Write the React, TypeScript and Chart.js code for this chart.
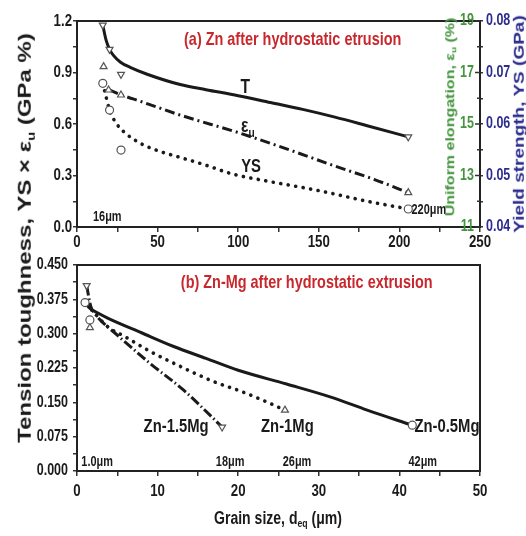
import React, { useEffect, useRef } from 'react';
import { Chart, registerables } from 'chart.js';

Chart.register(...registerables);

// ---------- Panel (a): Zn after hydrostatic extrusion (fitted curves) ----------
const aToughX = [16, 18, 20.2, 22.6, 27, 33, 43.5, 64, 80, 100, 120, 140, 160, 180, 205.5];
const aToughY = [1.176, 1.09, 1.035, 1.0, 0.96, 0.93, 0.89, 0.83, 0.8, 0.765, 0.725, 0.685, 0.64, 0.59, 0.525];
const aElongX = [19.6, 27.3, 40, 64, 100, 130, 160, 185, 205.5];
const aElongY = [0.8, 0.77, 0.73, 0.652, 0.55, 0.455, 0.355, 0.275, 0.2];
const aYieldX = [16, 18, 20.2, 23.7, 29, 39.4, 51.9, 62.3, 80, 96, 120, 140, 156, 180, 205.5];
const aYieldY = [0.837, 0.76, 0.681, 0.613, 0.555, 0.487, 0.439, 0.41, 0.36, 0.31, 0.264, 0.23, 0.2, 0.15, 0.105];
// measured points
const aToughPtX = [16, 20.2, 27.3, 205.5];
const aToughPtY = [1.176, 1.035, 0.889, 0.525];
const aElongPtX = [16.5, 19.6, 27.3, 205.5];
const aElongPtY = [0.934, 0.798, 0.769, 0.2];
const aYieldPtX = [16, 20.2, 27.3, 205.5];
const aYieldPtY = [0.837, 0.681, 0.448, 0.105];

// ---------- Panel (b): Zn-Mg after hydrostatic extrusion ----------
const b05X = [1.0, 1.5, 2.6, 3.8, 8, 12, 16, 20, 26, 31.4, 36, 41.6];
const b05Y = [0.368, 0.357, 0.345, 0.334, 0.302, 0.272, 0.246, 0.22, 0.19, 0.162, 0.133, 0.1];
const b1X = [1.8, 3.9, 6, 9, 13, 17, 20.2, 23, 25.8];
const b1Y = [0.352, 0.314, 0.293, 0.262, 0.227, 0.195, 0.175, 0.155, 0.133];
const b15X = [1.2, 1.7, 2.3, 5, 9, 13.2, 16.5, 18];
const b15Y = [0.405, 0.36, 0.342, 0.297, 0.236, 0.177, 0.122, 0.096];
const b05PtX = [1.0, 1.6, 41.6];
const b05PtY = [0.368, 0.33, 0.1];
const b1PtX = [1.6, 25.8];
const b1PtY = [0.313, 0.133];
const b15PtX = [1.2, 18];
const b15PtY = [0.405, 0.096];

// axis ranges
const aXRange = [0, 250];
const aYRange = [0, 1.2];
const aElongAxis = [11, 19];
const aYSAxis = [0.04, 0.08];
const bXRange = [0, 50];
const bYRange = [0, 0.45];

const WIDE = "'Liberation Sans', Arial, sans-serif";
const SQUEEZE = 0.78;
const RED = '#c8282d';
const GREEN = '#45943f';
const BLUE = '#2c2c8e';
const INK = '#1a1a1a';
const CLEAR = 'rgba(0,0,0,0)';

const topNotes = [
  { text: '(a) Zn after hydrostatic etrusion', x: 133.8, y: 1.092, size: 18.5, color: RED },
  { text: 'T', x: 104.4, y: 0.81, size: 20 },
  { text: 'ε', sub: 'u', x: 106, y: 0.585, size: 20 },
  { text: 'YS', x: 108, y: 0.35, size: 19 },
  { text: '16μm', x: 18.8, y: 0.055, size: 14 },
  { text: '220μm', x: 207.5, y: 0.1, size: 14, align: 'left' },
];
const bottomNotes = [
  { text: '(b) Zn-Mg after hydrostatic extrusion', x: 28.5, y: 0.41, size: 18.5, color: RED },
  { text: 'Zn-1.5Mg', x: 12.3, y: 0.096, size: 19 },
  { text: 'Zn-1Mg', x: 26.1, y: 0.096, size: 19 },
  { text: 'Zn-0.5Mg', x: 45.9, y: 0.096, size: 19 },
  { text: '1.0μm', x: 2.5, y: 0.02, size: 14 },
  { text: '18μm', x: 19, y: 0.02, size: 14 },
  { text: '26μm', x: 27.3, y: 0.02, size: 14 },
  { text: '42μm', x: 42.9, y: 0.02, size: 14 },
];

const pts = (xs: number[], ys: number[]) => xs.map((x, i) => ({ x, y: ys[i] }));
const isMult = (v: number, step: number) => Math.abs(v / step - Math.round(v / step)) < 1e-6;

const curve = (label: string, xs: number[], ys: number[], dash: number[], cap: string, width: number) => ({
  type: 'line',
  label,
  data: pts(xs, ys),
  borderColor: INK,
  borderWidth: width,
  borderDash: dash,
  borderCapStyle: cap,
  pointRadius: 0,
  fill: false,
  showLine: true,
  cubicInterpolationMode: 'monotone',
  order: 2,
});
const marks = (label: string, xs: number[], ys: number[], style: string, rotation: number) => ({
  type: 'scatter',
  label,
  data: pts(xs, ys),
  pointStyle: style,
  rotation,
  pointRadius: 4,
  borderColor: '#555',
  backgroundColor: '#ffffff',
  borderWidth: 1.2,
  showLine: false,
  order: 1,
});

const framePlugin = {
  id: 'frame',
  beforeDatasetsDraw(chart: any) {
    const { ctx, chartArea: a } = chart;
    ctx.save();
    ctx.strokeStyle = '#222';
    ctx.lineWidth = 2;
    ctx.strokeRect(a.left, a.top, a.right - a.left, a.bottom - a.top);
    const y2 = chart.scales.y2;
    if (y2) {
      ctx.lineWidth = 1.5;
      ctx.strokeStyle = '#333';
      for (const t of y2.ticks) {
        const py = y2.getPixelForValue(t.value);
        const len = t.label ? 5 : 3;
        ctx.beginPath();
        ctx.moveTo(a.right - len, py);
        ctx.lineTo(a.right, py);
        ctx.stroke();
      }
    }
    ctx.restore();
  },
};

// draws tick labels (set by the scales' callbacks) in a condensed bold face
const tickLabelPlugin = {
  id: 'tickLabels',
  afterDraw(chart: any, _args: any, opts: any) {
    const { ctx, chartArea: a } = chart;
    const axes = (opts && opts.axes) || {};
    for (const id of Object.keys(axes)) {
      const s = chart.scales[id];
      const c = axes[id];
      if (!s) continue;
      ctx.save();
      ctx.fillStyle = c.color;
      ctx.font = `bold ${c.size}px ${WIDE}`;
      for (const t of s.ticks) {
        if (!t.label) continue;
        const p = s.getPixelForValue(t.value);
        let x = p;
        let y = p;
        let align = 'center';
        let base = 'middle';
        if (c.side === 'bottom') {
          y = a.bottom + c.offset;
          base = 'top';
        } else if (c.side === 'left') {
          x = a.left - c.offset;
          align = 'right';
        } else if (c.side === 'innerRight') {
          x = a.right - c.offset;
          align = 'right';
        } else {
          x = a.right + c.offset;
          align = 'left';
        }
        ctx.save();
        ctx.translate(x, y);
        ctx.scale(SQUEEZE, 1);
        ctx.textAlign = align;
        ctx.textBaseline = base;
        ctx.fillText(String(t.label), 0, 0);
        ctx.restore();
      }
      ctx.restore();
    }
  },
};

const notesPlugin = {
  id: 'notes',
  afterDraw(chart: any, _args: any, opts: any) {
    const items = (opts && opts.items) || [];
    const { ctx } = chart;
    const xs = chart.scales.x;
    const ys = chart.scales.y;
    for (const n of items) {
      const px = xs.getPixelForValue(n.x);
      const py = ys.getPixelForValue(n.y);
      ctx.save();
      ctx.fillStyle = n.color || INK;
      ctx.textBaseline = 'middle';
      ctx.translate(px, py);
      ctx.scale(SQUEEZE, 1);
      ctx.font = `bold ${n.size}px ${WIDE}`;
      if (n.sub) {
        const w1 = ctx.measureText(n.text).width;
        ctx.font = `bold ${Math.round(n.size * 0.65)}px ${WIDE}`;
        const w2 = ctx.measureText(n.sub).width;
        const x0 = -(w1 + w2) / 2;
        ctx.textAlign = 'left';
        ctx.fillText(n.sub, x0 + w1, n.size * 0.35);
        ctx.font = `bold ${n.size}px ${WIDE}`;
        ctx.fillText(n.text, x0, 0);
      } else {
        ctx.textAlign = n.align || 'center';
        ctx.fillText(n.text, 0, 0);
      }
      ctx.restore();
    }
  },
};

const hidden = { size: 16, weight: 'bold' as const };

function TopChart() {
  const ref = useRef<HTMLCanvasElement | null>(null);
  useEffect(() => {
    if (!ref.current) return;
    const chart = new Chart(ref.current, {
      type: 'scatter',
      data: {
        datasets: [
          curve('T', aToughX, aToughY, [], 'butt', 3),
          curve('εu', aElongX, aElongY, [10, 4, 2, 4], 'butt', 3),
          curve('YS', aYieldX, aYieldY, [0.1, 7.5], 'round', 3.6),
          marks('T pts', aToughPtX, aToughPtY, 'triangle', 180),
          marks('εu pts', aElongPtX, aElongPtY, 'triangle', 0),
          marks('YS pts', aYieldPtX, aYieldPtY, 'circle', 0),
        ] as any,
      },
      options: {
        animation: false,
        responsive: false,
        maintainAspectRatio: false,
        layout: { padding: { top: 21, left: 0, right: 0, bottom: 0 } },
        plugins: {
          legend: { display: false },
          tooltip: { enabled: false },
          notes: { items: topNotes },
          tickLabels: {
            axes: {
              x: { side: 'bottom', offset: 7, size: 17, color: INK },
              y: { side: 'left', offset: 5, size: 17, color: INK },
              y2: { side: 'innerRight', offset: 6, size: 16, color: GREEN },
              y3: { side: 'right', offset: 6, size: 16, color: BLUE },
            },
          },
        } as any,
        scales: {
          x: {
            type: 'linear',
            min: aXRange[0],
            max: aXRange[1],
            ticks: {
              stepSize: 25,
              autoSkip: false,
              maxRotation: 0,
              color: CLEAR,
              font: hidden,
              callback: (v: any) => (isMult(v, 50) ? String(v) : ''),
            },
            grid: { drawOnChartArea: false, tickLength: 5, color: '#333', lineWidth: 1.5 },
            border: { display: false },
            afterFit: (s: any) => { s.height = 23; },
          },
          y: {
            type: 'linear',
            min: aYRange[0],
            max: aYRange[1],
            ticks: {
              stepSize: 0.15,
              autoSkip: false,
              color: CLEAR,
              font: hidden,
              callback: (v: any) => (isMult(v, 0.3) ? Number(v).toFixed(1) : ''),
            },
            grid: { drawOnChartArea: false, tickLength: 4, color: '#333', lineWidth: 1.5 },
            border: { display: false },
            afterFit: (s: any) => { s.width = 77; },
          },
          y2: {
            type: 'linear',
            position: 'right',
            weight: 0,
            min: aElongAxis[0],
            max: aElongAxis[1],
            ticks: {
              stepSize: 1,
              autoSkip: false,
              color: CLEAR,
              font: hidden,
              callback: (v: any) => (isMult(v - aElongAxis[0], 2) ? String(v) : ''),
            },
            grid: { drawOnChartArea: false, drawTicks: false },
            border: { display: false },
            afterFit: (s: any) => { s.width = 0; },
          },
          y3: {
            type: 'linear',
            position: 'right',
            weight: 1,
            min: aYSAxis[0],
            max: aYSAxis[1],
            ticks: {
              stepSize: 0.005,
              autoSkip: false,
              color: CLEAR,
              font: hidden,
              callback: (v: any) => (isMult(v, 0.01) ? Number(v).toFixed(2) : ''),
            },
            grid: { drawOnChartArea: false, tickLength: 3, color: '#333', lineWidth: 1.5 },
            border: { display: false },
            afterFit: (s: any) => { s.width = 46; },
          },
        } as any,
      },
      plugins: [framePlugin, notesPlugin, tickLabelPlugin],
    });
    return () => chart.destroy();
  }, []);
  return <canvas ref={ref} width={526} height={250} style={{ position: 'absolute', left: 0, top: 0 }} />;
}

function BottomChart() {
  const ref = useRef<HTMLCanvasElement | null>(null);
  useEffect(() => {
    if (!ref.current) return;
    const chart = new Chart(ref.current, {
      type: 'scatter',
      data: {
        datasets: [
          curve('Zn-0.5Mg', b05X, b05Y, [], 'butt', 3),
          curve('Zn-1Mg', b1X, b1Y, [0.1, 7.5], 'round', 3.6),
          curve('Zn-1.5Mg', b15X, b15Y, [10, 3, 1.5, 3], 'butt', 3),
          marks('Zn-0.5Mg pts', b05PtX, b05PtY, 'circle', 0),
          marks('Zn-1Mg pts', b1PtX, b1PtY, 'triangle', 0),
          marks('Zn-1.5Mg pts', b15PtX, b15PtY, 'triangle', 180),
        ] as any,
      },
      options: {
        animation: false,
        responsive: false,
        maintainAspectRatio: false,
        layout: { padding: { top: 15, left: 0, right: 46, bottom: 0 } },
        plugins: {
          legend: { display: false },
          tooltip: { enabled: false },
          notes: { items: bottomNotes },
          tickLabels: {
            axes: {
              x: { side: 'bottom', offset: 12, size: 17, color: INK },
              y: { side: 'left', offset: 9, size: 16, color: INK },
            },
          },
        } as any,
        scales: {
          x: {
            type: 'linear',
            min: bXRange[0],
            max: bXRange[1],
            ticks: {
              stepSize: 5,
              autoSkip: false,
              maxRotation: 0,
              color: CLEAR,
              font: hidden,
              callback: (v: any) => (isMult(v, 10) ? String(v) : ''),
            },
            grid: { drawOnChartArea: false, tickLength: 5, color: '#333', lineWidth: 1.5 },
            border: { display: false },
            afterFit: (s: any) => { s.height = 65; },
          },
          y: {
            type: 'linear',
            min: bYRange[0],
            max: bYRange[1],
            ticks: {
              stepSize: 0.0375,
              autoSkip: false,
              color: CLEAR,
              font: hidden,
              callback: (v: any) => (isMult(v, 0.075) ? Number(v).toFixed(3) : ''),
            },
            grid: { drawOnChartArea: false, tickLength: 4, color: '#333', lineWidth: 1.5 },
            border: { display: false },
            afterFit: (s: any) => { s.width = 77; },
          },
        } as any,
      },
      plugins: [framePlugin, notesPlugin, tickLabelPlugin],
    });
    return () => chart.destroy();
  }, []);
  return <canvas ref={ref} width={526} height={286} style={{ position: 'absolute', left: 0, top: 250 }} />;
}

const subStyle: React.CSSProperties = { fontSize: '0.62em', verticalAlign: '-0.3em' };

function VTitle(props: { cx: number; cy: number; size: number; color: string; children: React.ReactNode }) {
  return (
    <div
      style={{
        position: 'absolute',
        left: props.cx,
        top: props.cy,
        whiteSpace: 'nowrap',
        fontFamily: WIDE,
        fontWeight: 'bold',
        fontSize: props.size,
        lineHeight: 1,
        color: props.color,
        transform: `translate(-50%, -50%) rotate(-90deg) scaleY(${SQUEEZE})`,
      }}
    >
      {props.children}
    </div>
  );
}

export default function App() {
  return (
    <div style={{ position: 'absolute', left: 0, top: 0, width: 526, height: 536, background: '#fff', overflow: 'hidden' }}>
      <TopChart />
      <BottomChart />
      <VTitle cx={26} cy={238} size={24} color={INK}>
        Tension toughness, YS × ε<sub style={subStyle}>u</sub> (GPa %)
      </VTitle>
      <VTitle cx={451} cy={117} size={16} color={GREEN}>
        Uniform elongation, ε<sub style={subStyle}>u</sub> (%)
      </VTitle>
      <VTitle cx={519} cy={124} size={19} color={BLUE}>
        Yield strength, YS (GPa)
      </VTitle>
      <div
        style={{
          position: 'absolute',
          left: 278,
          top: 519,
          whiteSpace: 'nowrap',
          fontFamily: WIDE,
          fontWeight: 'bold',
          fontSize: 18,
          lineHeight: 1,
          color: INK,
          transform: `translate(-50%, -50%) scaleX(${SQUEEZE})`,
        }}
      >
        Grain size, d<sub style={subStyle}>eq</sub> (μm)
      </div>
    </div>
  );
}
